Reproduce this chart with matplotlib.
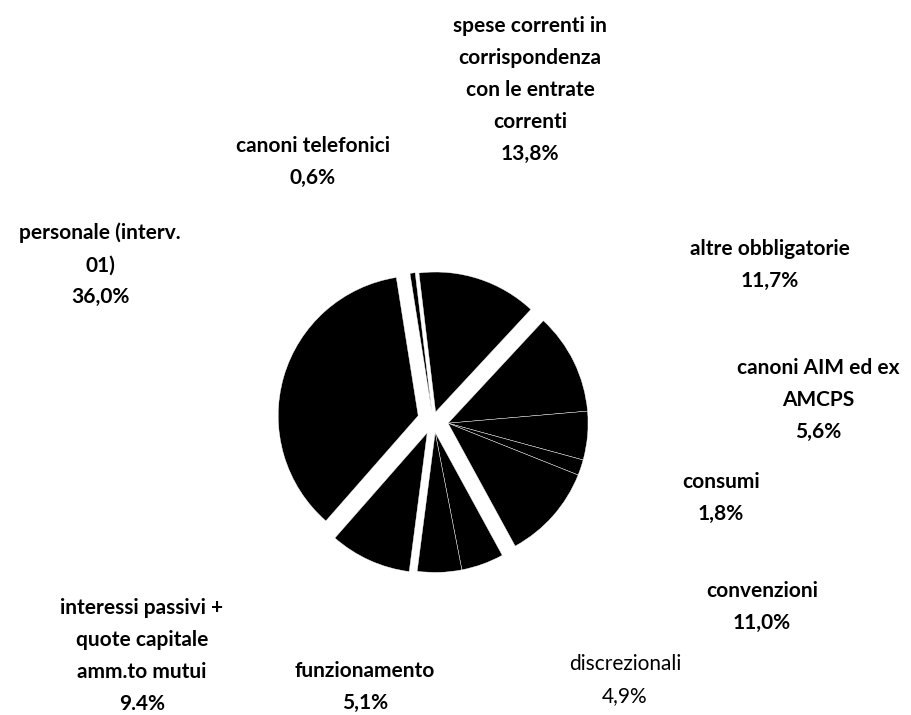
import matplotlib

matplotlib.use("Agg")
import matplotlib.pyplot as plt
import numpy as np

# data, clockwise from the top
categories = [
    "canoni telefonici",
    "spese correnti in\ncorrispondenza\ncon le entrate\ncorrenti",
    "altre obbligatorie",
    "canoni AIM ed ex\nAMCPS",
    "consumi",
    "convenzioni",
    "discrezionali",
    "funzionamento",
    "interessi passivi +\nquote capitale\namm.to mutui",
    "personale (interv.\n01)",
]
shares = [0.6, 13.8, 11.7, 5.6, 1.8, 11.0, 4.9, 5.1, 9.4, 36.0]
pct_text = ["0,6%", "13,8%", "11,7%", "5,6%", "1,8%", "11,0%", "4,9%", "5,1%", "9.4%", "36,0%"]

# layout (pixels, origin top-left)
W, H = 911, 715
CX, CY, R = 433, 420, 140
label_xy = [
    (313, 162), (530, 90), (770, 265), (818, 400), (721, 498),
    (762, 607), (625, 680), (365, 687), (142, 656), (100, 265),
]
group_of = [None, None, "right", "right", "right", "right", "low", "low", None, None]
solo_shift = {0: 0.06, 1: 0.06, 8: 0.1, 9: 0.11}
group_shift = {"right": (0.11, -12.0), "low": (0.09, -80.0)}

plt.rcParams["font.family"] = ["Lato", "DejaVu Sans"]

fig = plt.figure(figsize=(W / 100, H / 100), dpi=100)
ax = fig.add_axes([0, 0, 1, 1])

wedges, _ = ax.pie(
    shares,
    startangle=99,
    counterclock=False,
    center=(CX, H - CY),
    radius=R,
    colors=["black"] * len(shares),
    wedgeprops=dict(edgecolor="white", linewidth=0.3),
)

for i, w in enumerate(wedges):
    g = group_of[i]
    if g is None:
        mid = np.deg2rad((w.theta1 + w.theta2) / 2)
        d = solo_shift.get(i, 0.0) * R
    else:
        d = group_shift[g][0] * R
        mid = np.deg2rad(group_shift[g][1])
    w.set_center((CX + d * np.cos(mid), H - CY + d * np.sin(mid)))

for i, (x, y) in enumerate(label_xy):
    weight = "normal" if i == 6 else "bold"
    ax.text(x, H - y, categories[i] + "\n" + pct_text[i], ha="center", va="center",
            fontsize=15, fontweight=weight, linespacing=1.75, color="black")

ax.set_xlim(0, W)
ax.set_ylim(0, H)
ax.set_aspect("auto")
ax.axis("off")

fig.savefig("out.png", dpi=100, facecolor="white")
